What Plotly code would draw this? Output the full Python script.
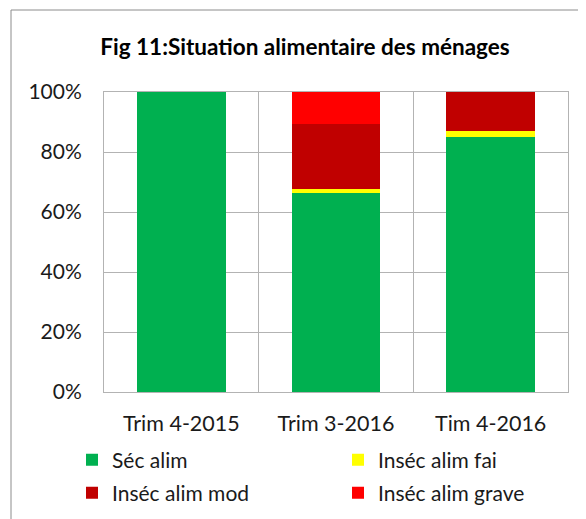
import plotly.graph_objects as go

categories = ["Trim 4-2015", "Trim 3-2016", "Tim 4-2016"]
sec_alim = [1.000, 0.665, 0.851]
insec_fai = [0.000, 0.012, 0.020]
insec_mod = [0.000, 0.217, 0.129]
insec_grave = [0.000, 0.106, 0.000]

series = [
    ("Séc alim", sec_alim, "#00B050", "legend"),
    ("Inséc alim fai", insec_fai, "#FFFF00", "legend"),
    ("Inséc alim mod", insec_mod, "#C00000", "legend2"),
    ("Inséc alim grave", insec_grave, "#FF0000", "legend2"),
]

FONT = "Lato"
OFF = 8  # page body margin
W, H = 586 - OFF, 519 - OFF
# plot area in reference pixel coordinates
L, R, T, B = 104, 568, 92, 392
L, R, T, B = L - OFF, R - OFF, T - OFF, B - OFF

fig = go.Figure()
for name, vals, color, leg in series:
    fig.add_trace(go.Bar(
        x=categories, y=vals, name=name, legend=leg,
        marker=dict(color=color, line=dict(width=0)),
    ))

def px_x(p):
    return (p - OFF - L) / (R - L)

def px_y(p):
    return (B - (p - OFF)) / (B - T)

legend_common = dict(
    orientation="h",
    xanchor="left", yanchor="middle",
    entrywidth=221, entrywidthmode="pixels",
    itemwidth=30,
    font=dict(family=FONT, size=21, color="#1a1a1a"),
    traceorder="normal",
    bgcolor="rgba(0,0,0,0)",
)

fig.update_layout(
    width=W, height=H,
    barmode="stack",
    bargap=0.426,
    paper_bgcolor="white",
    plot_bgcolor="white",
    margin=dict(l=L, r=W - R, t=T, b=H - B, autoexpand=False),
    font=dict(family=FONT, size=21, color="#1a1a1a"),
    title=dict(
        text="<b>Fig 11:Situation alimentaire des ménages</b>",
        x=(305 - OFF) / W, xanchor="center",
        y=1 - (47 - OFF) / H, yanchor="middle",
        font=dict(family=FONT, size=22.5, color="#000000"),
    ),
    showlegend=True,
    legend=dict(legend_common, x=px_x(72), y=px_y(460)),
    legend2=dict(legend_common, x=px_x(72), y=px_y(493)),
    xaxis=dict(
        type="category",
        tickson="boundaries",
        showgrid=True, gridcolor="#B3B3B3", gridwidth=1,
        showline=True, mirror=True, linecolor="#B3B3B3", linewidth=1,
        ticks="", ticklabelstandoff=12,
        tickfont=dict(family=FONT, size=21.5, color="#1a1a1a"),
    ),
    yaxis=dict(
        range=[0, 1], dtick=0.2, tickformat=".0%",
        showgrid=True, gridcolor="#B3B3B3", gridwidth=1,
        showline=True, mirror=True, linecolor="#B3B3B3", linewidth=1,
        ticks="", ticklabelstandoff=17, zeroline=False,
        tickfont=dict(family=FONT, size=21, color="#1a1a1a"),
    ),
    shapes=[dict(
        type="rect", xref="paper", yref="paper",
        x0=px_x(11), x1=px_x(640), y0=px_y(600), y1=px_y(10),
        line=dict(color="#8C8C8C", width=1), fillcolor="rgba(0,0,0,0)",
        layer="below",
    )],
)

fig.write_html("out.html")
